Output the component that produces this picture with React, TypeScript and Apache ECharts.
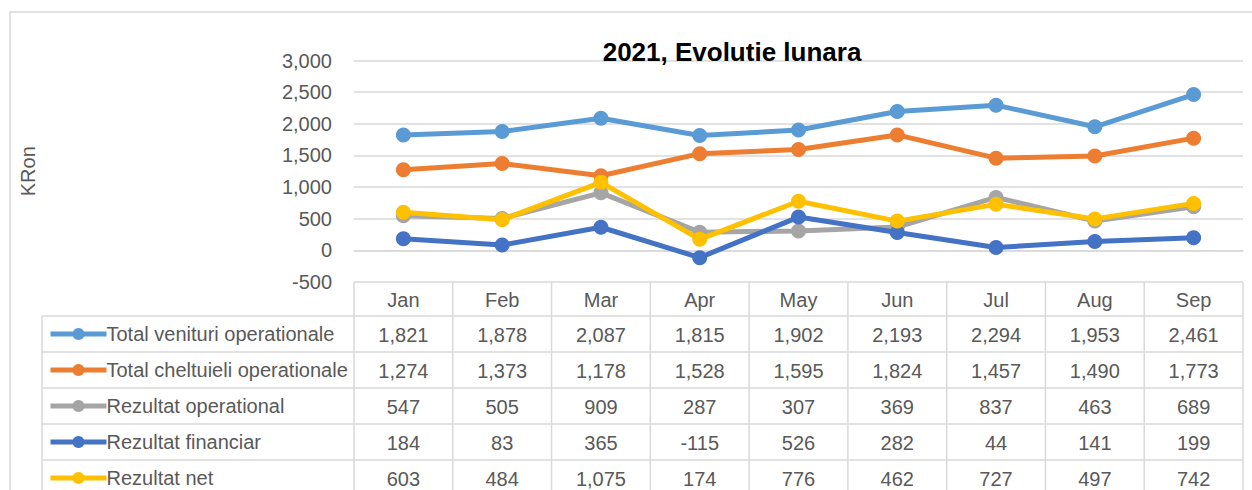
import React, { useEffect, useRef } from "react";
import * as echarts from "echarts";

const months = ["Jan", "Feb", "Mar", "Apr", "May", "Jun", "Jul", "Aug", "Sep"];
const seriesNames = [
  "Total venituri operationale",
  "Total cheltuieli operationale",
  "Rezultat operational",
  "Rezultat financiar",
  "Rezultat net",
];
const venituri = [1821, 1878, 2087, 1815, 1902, 2193, 2294, 1953, 2461];
const cheltuieli = [1274, 1373, 1178, 1528, 1595, 1824, 1457, 1490, 1773];
const rezOperational = [547, 505, 909, 287, 307, 369, 837, 463, 689];
const rezFinanciar = [184, 83, 365, -115, 526, 282, 44, 141, 199];
const rezNet = [603, 484, 1075, 174, 776, 462, 727, 497, 742];
const colors = ["#5B9BD5", "#ED7D31", "#A5A5A5", "#4472C4", "#FFC000"];
const yMin = -500;
const yMax = 3000;
const yInterval = 500;

const FONT = "'Liberation Sans Narrow', 'Arial Narrow', 'Liberation Sans', Arial, sans-serif";
const FS = 20;
const TXT = "#595959";
const LINE = "#d9d9d9";

const W = 1252;
const H = 490;
const GRID_L = 354;
const GRID_R = 1243;
const GRID_T = 60.5;
const GRID_B = 282;
const HEADER_B = 316;
const ROW_H = 36;
const TABLE_L = 42;

export default function App() {
  const ref = useRef<HTMLDivElement>(null);
  useEffect(() => {
    if (!ref.current) return;
    const chart = echarts.init(ref.current, undefined, { renderer: "svg" });
    const allData = [venituri, cheltuieli, rezOperational, rezFinanciar, rezNet];
    const fmt = (v: number) => v.toLocaleString("en-US");

    const xAxes: any[] = [
      {
        type: "category",
        data: months,
        position: "bottom",
        boundaryGap: true,
        axisLine: { show: true, lineStyle: { color: LINE, width: 1.5 } },
        axisTick: { show: false },
        splitLine: { show: false },
        axisLabel: { color: TXT, fontFamily: FONT, fontSize: FS, margin: 8 },
      },
    ];
    allData.forEach((d, i) => {
      xAxes.push({
        type: "category",
        data: d.map(fmt),
        position: "bottom",
        offset: HEADER_B - GRID_B + ROW_H * i + 1,
        boundaryGap: true,
        axisLine: { show: false },
        axisTick: { show: false },
        splitLine: { show: false },
        axisLabel: { color: TXT, fontFamily: FONT, fontSize: FS, margin: 8 },
      });
    });

    const colW = (GRID_R - GRID_L) / months.length;
    const graphics: any[] = [
      {
        type: "rect",
        shape: { x: 10, y: 12, width: W + 20, height: H + 20 },
        style: { fill: "none", stroke: LINE, lineWidth: 1.5 },
        silent: true,
      },
      {
        type: "text",
        x: 28,
        y: (GRID_T + GRID_B) / 2,
        rotation: Math.PI / 2,
        style: {
          text: "KRon",
          fill: TXT,
          font: `${FS}px ${FONT}`,
          align: "center",
          verticalAlign: "middle",
        },
      },
    ];
    for (let k = 0; k <= months.length; k++) {
      const x = GRID_L + colW * k;
      graphics.push({
        type: "line",
        shape: { x1: x, y1: GRID_B, x2: x, y2: H + 10 },
        style: { stroke: LINE, lineWidth: 1.5 },
        silent: true,
      });
    }
    graphics.push({
      type: "line",
      shape: { x1: TABLE_L, y1: HEADER_B, x2: TABLE_L, y2: H + 10 },
      style: { stroke: LINE, lineWidth: 1.5 },
      silent: true,
    });
    for (let r = 0; r <= seriesNames.length; r++) {
      const y = HEADER_B + ROW_H * r;
      graphics.push({
        type: "line",
        shape: { x1: TABLE_L, y1: y, x2: GRID_R, y2: y },
        style: { stroke: LINE, lineWidth: 1.5 },
        silent: true,
      });
    }

    chart.setOption({
      animation: false,
      title: {
        text: "2021, Evolutie lunara",
        left: 727,
        textAlign: "center",
        top: 34,
        textStyle: { fontFamily: FONT, fontSize: 26, fontWeight: "bold", color: "#000" },
      },
      legend: {
        orient: "vertical",
        left: 48,
        top: HEADER_B + 7,
        height: 260,
        padding: 0,
        itemWidth: 56,
        itemHeight: 15,
        itemGap: ROW_H - 22,
        data: seriesNames,
        lineStyle: { width: 5 },
        textStyle: {
          fontFamily: FONT,
          fontSize: FS,
          color: TXT,
          lineHeight: 22,
          padding: [0, 0, 0, -5],
        },
      },
      grid: {
        left: GRID_L,
        right: W - GRID_R,
        top: GRID_T,
        bottom: H - GRID_B,
        containLabel: false,
      },
      xAxis: xAxes,
      yAxis: {
        type: "value",
        min: yMin,
        max: yMax,
        interval: yInterval,
        axisLine: { show: false },
        axisTick: { show: false },
        splitLine: { lineStyle: { color: LINE, width: 1.5 } },
        axisLabel: {
          color: TXT,
          fontFamily: FONT,
          fontSize: FS,
          margin: 22,
          formatter: (v: number) => fmt(v),
        },
      },
      graphic: graphics,
      series: allData.map((d, i) => ({
        name: seriesNames[i],
        type: "line",
        data: d,
        xAxisIndex: 0,
        symbol: "circle",
        symbolSize: 15,
        lineStyle: { width: 5, color: colors[i] },
        itemStyle: { color: colors[i] },
        z: 2 + i,
      })),
    });
    return () => chart.dispose();
  }, []);
  return (
    <div
      ref={ref}
      style={{ position: "fixed", left: 0, top: 0, width: W, height: H, background: "#fff" }}
    />
  );
}
